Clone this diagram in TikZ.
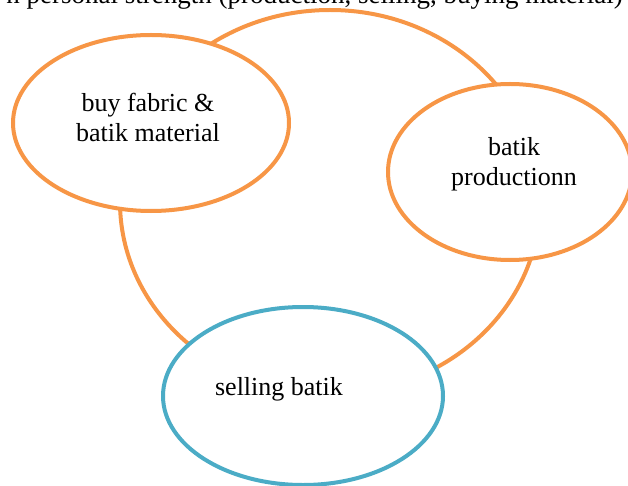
\documentclass[tikz,border=0pt]{standalone}
\usepackage{fontspec}
\setmainfont{Liberation Serif}
\usetikzlibrary{shapes.geometric,positioning}
\definecolor{ovalorange}{HTML}{F79646}
\definecolor{ovalblue}{HTML}{4BACC6}
\tikzset{
  oval/.style={
    ellipse,
    draw=ovalorange, line width=4pt,
    fill=white,
    inner sep=0pt},
  bigoval/.style={oval, fill=none,
    minimum width=420pt, minimum height=384pt},
  sideoval/.style={oval, minimum height=176pt},
  selloval/.style={oval, draw=ovalblue,
    minimum width=280pt, minimum height=178pt},
  ovaltext/.style={
    inner sep=0pt,
    align=center,
    font=\fontsize{26}{30}\selectfont},
  toptext/.style={inner sep=0pt, font=\fontsize{27}{31}\selectfont},
}

\begin{document}
\begin{tikzpicture}[x=1pt, y=-1pt]
  \useasboundingbox (0,0) rectangle (628,486);
  \clip (0,0) rectangle (628,486);

  \node[toptext, anchor=base east] (strength) at (623,4)
    {n personal strength (production, selling, buying material)};

  \node[bigoval] (cycle) at (330,202) {};

  \node[sideoval, minimum width=276pt] (buy) at (151,123) {};
  \node[sideoval, minimum width=244pt] (prod) at (510,172) {};
  \node[selloval] (sell) at (303,396) {};

  \node[ovaltext] (buy-text) at (148,117) {buy fabric \&\\batik material};
  \node[ovaltext] (prod-text) at (514,164) {batik\\productionn};
  \node[ovaltext, anchor=base] (sell-text) at (279,395) {selling batik};

\end{tikzpicture}
\end{document}
